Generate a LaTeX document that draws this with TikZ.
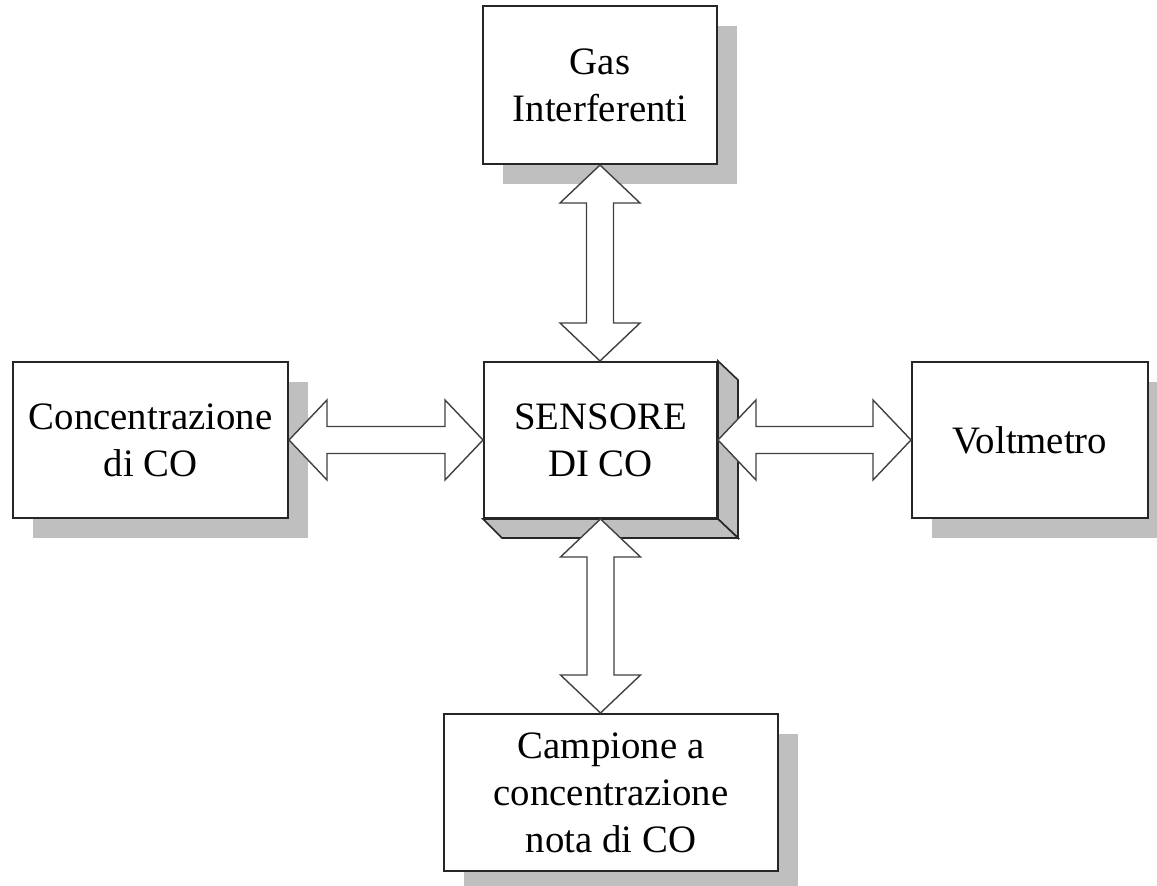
\documentclass[tikz,border=0pt]{standalone}
\usepackage{fontspec}
\setmainfont{Liberation Serif}
\usetikzlibrary{shadows,calc}
\tikzset{
  blockbox/.style={draw=black!85, line width=1pt, fill=white, inner sep=0pt,
    align=center, font=\fontsize{19.4}{23.5}\selectfont},
  shadowed/.style={drop shadow={shadow xshift=10pt, shadow yshift=-10pt,
    fill=black!25, opacity=1}},
  face/.style={draw=black!85, line width=0.8pt, fill=black!25, line join=miter},
  fatarrow/.style={draw=black!75, line width=0.7pt, fill=white, line join=miter},
}
\newcommand{\vfat}[2]{%
  \draw[fatarrow] let \p1=(#1), \p2=(#2) in
    (\x1,\y1) -- (\x1-20pt,\y1-19pt) -- (\x1-6.75pt,\y1-19pt) -- (\x1-6.75pt,\y2+19pt)
    -- (\x1-20pt,\y2+19pt) -- (\x1,\y2) -- (\x1+20pt,\y2+19pt) -- (\x1+6.75pt,\y2+19pt)
    -- (\x1+6.75pt,\y1-19pt) -- (\x1+20pt,\y1-19pt) -- cycle;}
\newcommand{\hfat}[2]{%
  \draw[fatarrow] let \p1=(#1), \p2=(#2) in
    (\x1,\y1) -- (\x1+19pt,\y1+20pt) -- (\x1+19pt,\y1+6.75pt) -- (\x2-19pt,\y1+6.75pt)
    -- (\x2-19pt,\y1+20pt) -- (\x2,\y1) -- (\x2-19pt,\y1-20pt) -- (\x2-19pt,\y1-6.75pt)
    -- (\x1+19pt,\y1-6.75pt) -- (\x1+19pt,\y1-20pt) -- cycle;}
\begin{document}
\begin{tikzpicture}[x=0.5pt,y=-0.5pt]
\useasboundingbox (0,0) rectangle (1157,886);
\node[blockbox,shadowed,minimum width=117pt,minimum height=79pt] (gas) at (600,85) {Gas\\Interferenti};
\node[blockbox,minimum width=116.5pt,minimum height=78pt] (sens) at (600.5,440) {SENSORE\\DI CO};
\node[blockbox,shadowed,minimum width=137.5pt,minimum height=78pt] (conc) at (150.5,440) {Concentrazione\\di CO};
\node[blockbox,shadowed,minimum width=118pt,minimum height=78pt] (volt) at (1030,440) {Voltmetro};
\node[blockbox,shadowed,minimum width=167pt,minimum height=78.5pt] (camp) at (611,792.5) {Campione a\\concentrazione\\nota di CO};
% 3D faces of sensor box
\draw[face] (sens.north east) -- ++(10pt,-9.5pt) -- ($(sens.south east)+(10pt,-9.5pt)$) -- (sens.south east) -- cycle;
\draw[face] (sens.south west) -- ++(9.5pt,-9.5pt) -- ($(sens.south east)+(10pt,-9.5pt)$) -- (sens.south east) -- cycle;
% arrows
\vfat{gas.south}{sens.north}
\vfat{sens.south}{sens.south |- camp.north}
\hfat{conc.east}{sens.west}
\hfat{sens.east}{volt.west}
\end{tikzpicture}
\end{document}
